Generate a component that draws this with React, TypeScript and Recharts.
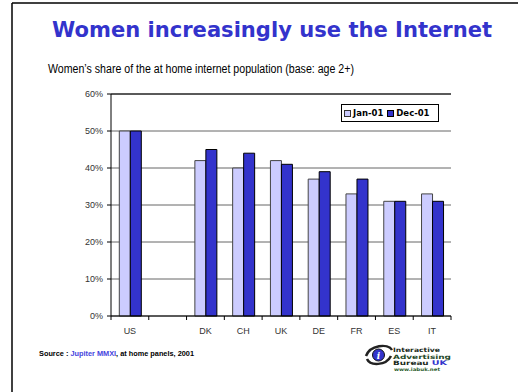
import React from "react";
import {
  BarChart,
  Bar,
  XAxis,
  YAxis,
  CartesianGrid,
  ReferenceLine,
  Legend,
} from "recharts";

const categories = ["US", "", "DK", "CH", "UK", "DE", "FR", "ES", "IT"];
const jan01: (number | null)[] = [50, null, 42, 40, 42, 37, 33, 31, 33];
const dec01: (number | null)[] = [50, null, 45, 44, 41, 39, 37, 31, 31];
const yTicks = [0, 10, 20, 30, 40, 50, 60];
const seriesNames = ["Jan-01", "Dec-01"];

const JAN_COLOR = "#CCCCFF";
const DEC_COLOR = "#3333CC";

const data = categories.map((c, i) => ({
  cat: c,
  jan: jan01[i],
  dec: dec01[i],
}));

const CatTick = (props: any) => {
  const { x, y, payload, index, visibleTicksCount } = props;
  const off = payload && payload.offset ? payload.offset : 0;
  const last = index === visibleTicksCount - 1;
  return (
    <g>
      <line x1={x - off} y1={y} x2={x - off} y2={y + 4} stroke="#000" strokeWidth={1} />
      {last && (
        <line x1={x + off} y1={y} x2={x + off} y2={y + 4} stroke="#000" strokeWidth={1} />
      )}
      <text
        x={x}
        y={y + 18}
        textAnchor="middle"
        fontSize={9}
        fontFamily="'Liberation Sans', Arial, sans-serif"
        fill="#333"
      >
        {payload.value}
      </text>
    </g>
  );
};

const LegendBox = () => (
  <div
    style={{
      width: 98,
      height: 18,
      boxSizing: "border-box",
      border: "1px solid #000",
      background: "#fff",
      display: "flex",
      alignItems: "center",
      fontFamily: "'DejaVu Sans', Verdana, sans-serif",
      fontWeight: "bold",
      fontSize: 8.5,
      color: "#000",
      paddingLeft: 2,
    }}
  >
    <span
      style={{
        display: "inline-block",
        width: 5,
        height: 5,
        border: "1px solid #333",
        background: JAN_COLOR,
        marginRight: 2,
      }}
    />
    <span style={{ marginRight: 4 }}>{seriesNames[0]}</span>
    <span
      style={{
        display: "inline-block",
        width: 5,
        height: 5,
        border: "1px solid #000",
        background: DEC_COLOR,
        marginRight: 2,
      }}
    />
    <span>{seriesNames[1]}</span>
  </div>
);

export default function App() {
  return (
    <div
      style={{
        position: "fixed",
        left: 0,
        top: 0,
        width: 518,
        height: 392,
        background: "#fff",
        overflow: "hidden",
      }}
    >
      <svg
        width={518}
        height={392}
        style={{ position: "absolute", left: 0, top: 0 }}
      >
        <line x1={12} y1={3} x2={518} y2={3} stroke="#000" strokeWidth={1.5} />
        <line x1={12} y1={3} x2={12} y2={392} stroke="#000" strokeWidth={1.5} />
        <text
          x={272}
          y={37}
          textAnchor="middle"
          fontFamily="'DejaVu Sans', Verdana, sans-serif"
          fontWeight="bold"
          fontSize={21}
          fill="#3333CC"
          textLength={440}
          lengthAdjust="spacingAndGlyphs"
        >
          Women increasingly use the Internet
        </text>
        <text
          x={48}
          y={73}
          fontFamily="'Liberation Sans', Arial, sans-serif"
          fontSize={12}
          fill="#000"
          textLength={306}
          lengthAdjust="spacingAndGlyphs"
        >
          Women’s share of the at home internet population (base: age 2+)
        </text>
        <text
          x={39}
          y={356}
          fontFamily="'Liberation Sans', Arial, sans-serif"
          fontWeight="bold"
          fontSize={6.5}
          fill="#000"
          textLength={155}
          lengthAdjust="spacingAndGlyphs"
        >
          Source :{" "}
          <tspan fill="#4444DD">Jupiter MMXI</tspan>, at home panels, 2001
        </text>
        {/* logo */}
        <g>
          <path
            d="M366 356 C 370 345, 388 343, 392 350"
            fill="none"
            stroke="#222"
            strokeWidth={2.5}
          />
          <path
            d="M367 359 C 370 366, 386 366, 391 356"
            fill="none"
            stroke="#222"
            strokeWidth={2.5}
          />
          <circle cx={378.5} cy={355} r={6} fill="#3333CC" stroke="#111" strokeWidth={1} />
          <text
            x={378.5}
            y={358.5}
            textAnchor="middle"
            fontFamily="'DejaVu Serif', serif"
            fontStyle="italic"
            fontWeight="bold"
            fontSize={9}
            fill="#fff"
          >
            i
          </text>
          <text
            x={393}
            y={352}
            fontFamily="'DejaVu Sans', Verdana, sans-serif"
            fontWeight="bold"
            fontSize={6}
            fill="#1a2a1a"
            textLength={47}
            lengthAdjust="spacingAndGlyphs"
          >
            Interactive
          </text>
          <text
            x={393}
            y={358.5}
            fontFamily="'DejaVu Sans', Verdana, sans-serif"
            fontWeight="bold"
            fontSize={6}
            fill="#1f4a2a"
            textLength={58}
            lengthAdjust="spacingAndGlyphs"
          >
            Advertising
          </text>
          <text
            x={393}
            y={365}
            fontFamily="'DejaVu Sans', Verdana, sans-serif"
            fontWeight="bold"
            fontSize={6}
            fill="#1a2a1a"
            textLength={54}
            lengthAdjust="spacingAndGlyphs"
          >
            Bureau <tspan fill="#3333CC" fontSize={6.5}>UK</tspan>
          </text>
          <text
            x={394}
            y={371}
            fontFamily="'DejaVu Sans', Verdana, sans-serif"
            fontWeight="bold"
            fontSize={4.5}
            fill="#2a5a2a"
            textLength={46}
            lengthAdjust="spacingAndGlyphs"
          >
            www.iabuk.net
          </text>
        </g>
      </svg>
      <div style={{ position: "absolute", left: 0, top: 0 }}>
        <BarChart
          width={518}
          height={392}
          data={data}
          margin={{ top: 94, right: 67, bottom: 46, left: 0 }}
          barCategoryGap="22%"
          barGap={0}
        >
          <CartesianGrid
            vertical={false}
            stroke="#666"
            strokeWidth={1}
            yAxisId="left"
          />
          <XAxis
            dataKey="cat"
            height={30}
            interval={0}
            tickLine={false}
            tickSize={0}
            tickMargin={0}
            axisLine={{ stroke: "#000" }}
            tick={<CatTick />}
          />
          <YAxis
            yAxisId="left"
            width={111}
            domain={[0, 60]}
            ticks={yTicks}
            tickFormatter={(v: number) => `${v}%`}
            tickSize={4}
            tickMargin={4}
            axisLine={{ stroke: "#000" }}
            tickLine={{ stroke: "#000" }}
            tick={{
              fontSize: 9,
              fill: "#333",
              fontFamily: "'Liberation Sans', Arial, sans-serif",
            }}
          />
          <YAxis
            yAxisId="right"
            orientation="right"
            width={0}
            domain={[0, 60]}
            tick={false}
            tickLine={false}
            axisLine={{ stroke: "#000" }}
          />
          <ReferenceLine yAxisId="left" y={60} stroke="#000" strokeWidth={1} />
          <Legend
            layout="horizontal"
            verticalAlign="middle"
            align="center"
            content={<LegendBox />}
            wrapperStyle={{ position: "absolute", left: 341, top: 104, width: 98 }}
          />
          <Bar
            yAxisId="left"
            dataKey="jan"
            name={seriesNames[0]}
            fill={JAN_COLOR}
            stroke="#444"
            strokeWidth={1}
            isAnimationActive={false}
          />
          <Bar
            yAxisId="left"
            dataKey="dec"
            name={seriesNames[1]}
            fill={DEC_COLOR}
            stroke="#000"
            strokeWidth={1}
            isAnimationActive={false}
          />
        </BarChart>
      </div>
    </div>
  );
}
